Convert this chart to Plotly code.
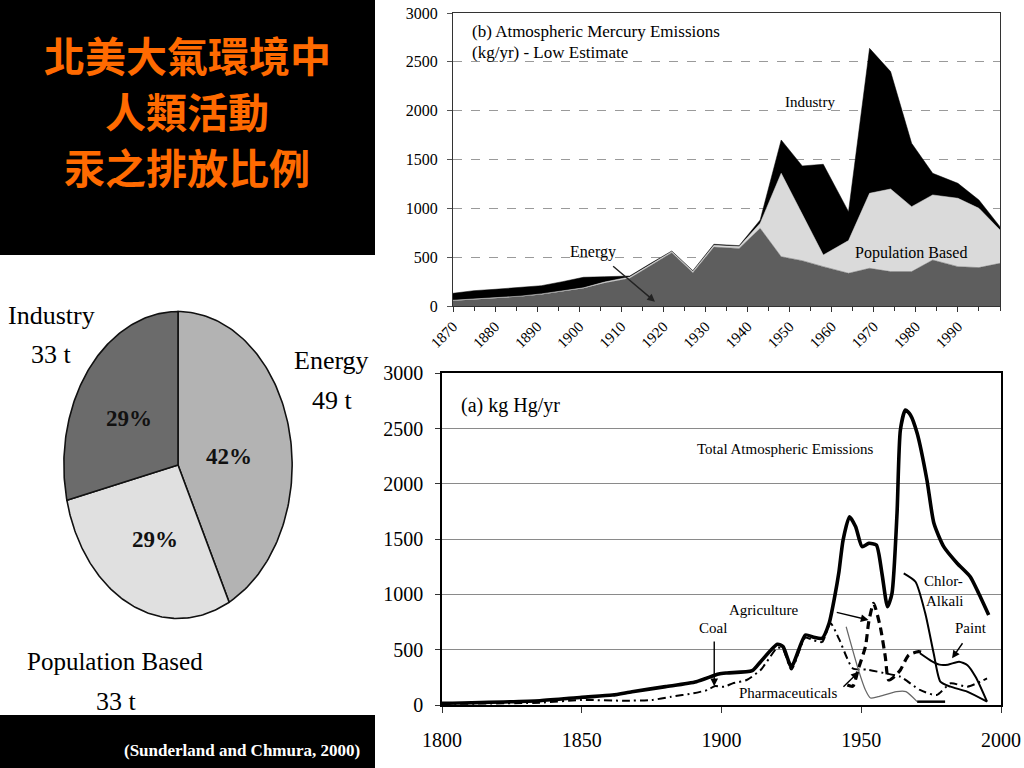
import numpy as np
import plotly.graph_objects as go

W, H = 1024, 768

# ---------------- data ----------------
# Pie (total emissions by sector, tonnes)
pie_labels = ["Energy", "Population Based", "Industry"]
pie_tonnes = [49, 33, 33]
pie_pct = ["42%", "29%", "29%"]

# (b) stacked area, low estimate (kg/yr)
b_years = [1870, 1875, 1880, 1886, 1891, 1896, 1901, 1906, 1912, 1917, 1922, 1927, 1932,
           1938, 1943, 1948, 1953, 1958, 1964, 1969, 1974, 1979, 1984, 1990, 1995, 2000]
b_energy = [54, 68, 78, 96, 119, 147, 181, 235, 283, 415, 546, 341, 603,
            590, 795, 505, 464, 403, 335, 386, 352, 352, 471, 403, 393, 437]
b_population = [5, 5, 5, 5, 5, 5, 5, 10, 15, 12, 14, 14, 19,
                18, 52, 854, 476, 119, 335, 768, 846, 665, 666, 700, 607, 341]
b_industry = [71, 84, 88, 87, 84, 97, 108, 55, 9, 10, 3, 7, 10,
              10, 34, 341, 494, 929, 296, 1484, 1202, 649, 222, 153, 85, 34]
b_xticks = [1870, 1880, 1890, 1900, 1910, 1920, 1930, 1940, 1950, 1960, 1970, 1980, 1990]

# (a) source lines (kg Hg/yr)
total_years = [1800, 1835, 1850, 1861, 1868, 1880, 1891, 1899, 1902, 1911, 1914, 1920, 1922,
               1925, 1930, 1933, 1936, 1938.5, 1940.5, 1942, 1943.5, 1945.8, 1948, 1950.3,
               1952.7, 1955.4, 1957.4, 1959.4, 1961, 1962.8, 1964, 1965.8, 1967.6, 1970,
               1973.5, 1976, 1979.5, 1984.3, 1989, 1992, 1995.6]
total_vals = [15, 39, 70, 90, 120, 166, 211, 280, 290, 310, 392, 549, 528,
              347, 633, 612, 603, 739, 980, 1200, 1492, 1703, 1612, 1432,
              1462, 1447, 1191, 889, 1010, 1734, 2487, 2668, 2623, 2457,
              2035, 1643, 1432, 1282, 1160, 1010, 814]

coal_years = [1800, 1835, 1850, 1865, 1875, 1882, 1890, 1895, 1897.5, 1901, 1904, 1909, 1914,
              1917, 1920, 1922, 1925, 1930, 1933, 1936, 1939, 1942, 1945, 1947, 1952, 1958,
              1964, 1971, 1977, 1982, 1988, 1995]
coal_vals = [10, 21, 45, 39, 45, 75, 106, 136, 170, 166, 196, 226, 317,
             420, 520, 505, 320, 610, 585, 570, 739, 600, 420, 330, 320, 290,
             256, 136, 90, 196, 166, 241]

agri_years = [1945, 1947, 1949, 1951.5, 1952.7, 1954.4, 1956.8, 1958.6, 1959.8, 1962,
              1964, 1967, 1970.5, 1973]
agri_vals = [180, 170, 330, 528, 754, 920, 708, 437, 226, 260, 317, 452, 482, 470]

pharma_years = [1944.6, 1949, 1951.5, 1953.3, 1956, 1962.6, 1966, 1970]
pharma_vals = [708, 317, 136, 63, 75, 121, 121, 30]

other_years = [1970, 1980]
other_vals = [30, 30]

chlor_years = [1965.2, 1969.4, 1972.9, 1975.9, 1978.3, 1981.9, 1987.9, 1995]
chlor_vals = [1191, 1115, 829, 468, 211, 166, 121, 30]

paint_years = [1971, 1975, 1978, 1981, 1985, 1988, 1991, 1995]
paint_vals = [468, 400, 365, 365, 392, 360, 250, 30]

title_lines = ["北美大氣環境中", "人類活動", "汞之排放比例"]

# ---------------- helpers ----------------
def px(x):
    return x / W


def py(y):
    return 1 - y / H


SERIF = "Liberation Serif"
fig = go.Figure()

# ---------------- pie (elliptical, drawn from values) ----------------
pie_colors = ["#b3b3b3", "#e0e0e0", "#6b6b6b"]
total_t = sum(pie_tonnes)
start = 0.0
for lab, val, col in zip(pie_labels, pie_tonnes, pie_colors):
    frac = val / total_t
    th = np.linspace(start, start + frac * 2 * np.pi, 120)
    xs = np.concatenate([[0], np.sin(th), [0]])
    ys = np.concatenate([[0], np.cos(th), [0]])
    fig.add_trace(go.Scatter(x=xs, y=ys, mode="lines", fill="toself", fillcolor=col,
                             line=dict(color="#111", width=1.6), name=lab,
                             xaxis="x3", yaxis="y3", hoverinfo="skip", showlegend=False))
    start += frac * 2 * np.pi

# ---------------- (b) stacked area ----------------
fig.add_trace(go.Scatter(x=b_years, y=b_energy, stackgroup="b", mode="lines",
                         line=dict(width=0.5, color="#5e5e5e"), fillcolor="#5e5e5e",
                         name="Energy", xaxis="x", yaxis="y", showlegend=False))
fig.add_trace(go.Scatter(x=b_years, y=b_population, stackgroup="b", mode="lines",
                         line=dict(width=0.5, color="#dadada"), fillcolor="#dadada",
                         name="Population Based", xaxis="x", yaxis="y", showlegend=False))
fig.add_trace(go.Scatter(x=b_years, y=b_industry, stackgroup="b", mode="lines",
                         line=dict(width=0.5, color="#000000"), fillcolor="#000000",
                         name="Industry", xaxis="x", yaxis="y", showlegend=False))

# ---------------- (a) lines ----------------
def add_line(xv, yv, name, color="black", width=2, dash="solid", shape="spline"):
    fig.add_trace(go.Scatter(x=xv, y=yv, mode="lines", name=name,
                             line=dict(color=color, width=width, dash=dash, shape=shape,
                                       smoothing=0.6),
                             xaxis="x2", yaxis="y2", showlegend=False))

add_line(coal_years, coal_vals, "Coal", width=2, dash="8px,4px,2px,4px")
add_line(agri_years, agri_vals, "Agriculture", width=3.2, dash="8px,5px")
add_line(pharma_years, pharma_vals, "Pharmaceuticals", color="#666", width=1.2)
add_line(other_years, other_vals, "Other", width=2.5, shape="linear")
add_line(chlor_years, chlor_vals, "Chlor-Alkali", width=2)
add_line(paint_years, paint_vals, "Paint", width=2)
add_line(total_years, total_vals, "Total Atmospheric Emissions", width=3.6)

# ---------------- annotations ----------------
ann = []

def text(t, x, y, size, xanchor="left", color="black", family=SERIF, height=None):
    d = dict(text=t, x=px(x), y=py(y), xref="paper", yref="paper",
             xanchor=xanchor, yanchor="middle", showarrow=False,
             font=dict(family=family, size=size, color=color))
    if height is not None:
        d["height"] = height
    ann.append(d)

# title
CJK = "Noto Sans CJK TC"
orange = "#ff6a00"
for line_txt, yy in zip(title_lines, [54, 110, 166]):
    text("<b>" + line_txt + "</b>", 187, yy, 41, "center", orange, CJK, height=48)

# citation
text("<b>(Sunderland and Chmura, 2000)</b>", 362, 750, 17, "right", "white")

# pie labels
text("Industry", 51, 316, 26, "center")
text("33 t", 51, 355, 26, "center")
text("Energy", 331, 361, 26, "center")
text("49 t", 332, 400, 26, "center")
text("Population Based", 115, 661, 25, "center")
text("33 t", 116, 701, 26, "center")
text("<b>" + pie_pct[2] + "</b>", 129, 418, 23, "center", "#111")
text("<b>" + pie_pct[0] + "</b>", 229, 456, 23, "center", "#111")
text("<b>" + pie_pct[1] + "</b>", 155, 539, 23, "center", "#111")

# (b) texts
text("(b) Atmospheric Mercury Emissions", 470, 32, 17)
text("(kg/yr) - Low Estimate", 470, 53, 17)
text("Industry", 783, 102, 15)
text("Population Based", 853, 253, 16)
text("Energy", 568, 252, 16)
ann.append(dict(x=1918, y=44, ax=1907.7, ay=420, xref="x", yref="y", axref="x", ayref="y",
                text="", showarrow=True, arrowhead=2, arrowsize=1.1, arrowwidth=1.4,
                arrowcolor="#222"))

# (a) texts
text("(a) kg Hg/yr", 459, 405, 20)
text("Total Atmospheric Emissions", 695, 449, 15)
text("Chlor-", 922, 581, 15)
text("Alkali", 924, 601, 15)
text("Paint", 953, 628, 15)
text("Agriculture", 727, 610, 15)
text("Coal", 697, 628, 15)
text("Pharmaceuticals", 737, 693, 15)

def arrow(x, y, axv, ayv):
    ann.append(dict(x=x, y=y, ax=axv, ay=ayv, xref="x2", yref="y2", axref="x2", ayref="y2",
                    text="", showarrow=True, arrowhead=2, arrowsize=1.1, arrowwidth=1.4,
                    arrowcolor="black"))

arrow(1897.4, 170, 1897.4, 588)        # Coal
arrow(1952.6, 769, 1940.7, 841)        # Agriculture
arrow(1949.1, 301, 1943.1, 151)        # Pharmaceuticals
arrow(1982.5, 422, 1986.6, 572)        # Paint

# ---------------- layout ----------------
fig.update_layout(
    width=W, height=H, margin=dict(l=0, r=0, t=0, b=0, pad=0, autoexpand=False),
    paper_bgcolor="white", plot_bgcolor="rgba(0,0,0,0)",
    font=dict(family=SERIF, color="black"),
    showlegend=False,
    annotations=ann,
    shapes=[
        dict(type="rect", xref="paper", yref="paper", x0=0, x1=px(375), y0=py(255), y1=1,
             fillcolor="black", line=dict(width=0), layer="below"),
        dict(type="rect", xref="paper", yref="paper", x0=0, x1=px(375), y0=0, y1=py(715),
             fillcolor="black", line=dict(width=0), layer="below"),
    ],
    # (b)
    xaxis=dict(domain=[px(453), px(1000)], range=[1870, 2000], anchor="y", automargin=False,
               tickvals=b_xticks, tickangle=-45, tickfont=dict(size=15),
               ticks="outside", ticklen=5, tickcolor="#333",
               minor=dict(dtick=5, tick0=1870, ticks="outside", ticklen=4, tickcolor="#333"),
               showline=True, linecolor="#333", linewidth=1, mirror=True,
               showgrid=False, zeroline=False, fixedrange=True),
    yaxis=dict(domain=[py(306), py(13)], range=[0, 3000], anchor="x", automargin=False,
               tickvals=[0, 500, 1000, 1500, 2000, 2500, 3000], tickfont=dict(size=16),
               ticks="outside", ticklen=5, tickcolor="#555", ticklabelstandoff=6,
               showline=True, linecolor="#333", linewidth=1, mirror=True,
               showgrid=True, gridcolor="#9a9a9a", griddash="dash", gridwidth=1,
               zeroline=False, fixedrange=True),
    # (a)
    xaxis2=dict(domain=[px(442), px(1001)], range=[1800, 2000], anchor="y2", automargin=False,
                dtick=50, tickfont=dict(size=20), ticks="outside", ticklen=6,
                tickcolor="#333", ticklabelstandoff=10,
                showline=True, linecolor="black", linewidth=1.5, mirror=True,
                showgrid=False, zeroline=False, fixedrange=True),
    yaxis2=dict(domain=[py(705), py(373.3)], range=[0, 3000], anchor="x2", automargin=False,
                dtick=500, tickfont=dict(size=20), ticks="outside", ticklen=5,
                tickcolor="#333", ticklabelstandoff=8,
                showline=True, linecolor="black", linewidth=1.5, mirror=True,
                showgrid=True, gridcolor="#8a8a8a", gridwidth=1.2,
                zeroline=False, fixedrange=True),
    # pie axes
    xaxis3=dict(domain=[px(62.7), px(293.3)], range=[-1.01, 1.01], anchor="y3",
                automargin=False, visible=False, fixedrange=True),
    yaxis3=dict(domain=[py(620), py(310)], range=[-1.01, 1.01], anchor="x3",
                automargin=False, visible=False, fixedrange=True),
)

fig.write_html("out.html",
               config={"displayModeBar": False},
               post_script="document.body.style.margin='0px';"
                           "document.body.style.overflow='hidden';")
